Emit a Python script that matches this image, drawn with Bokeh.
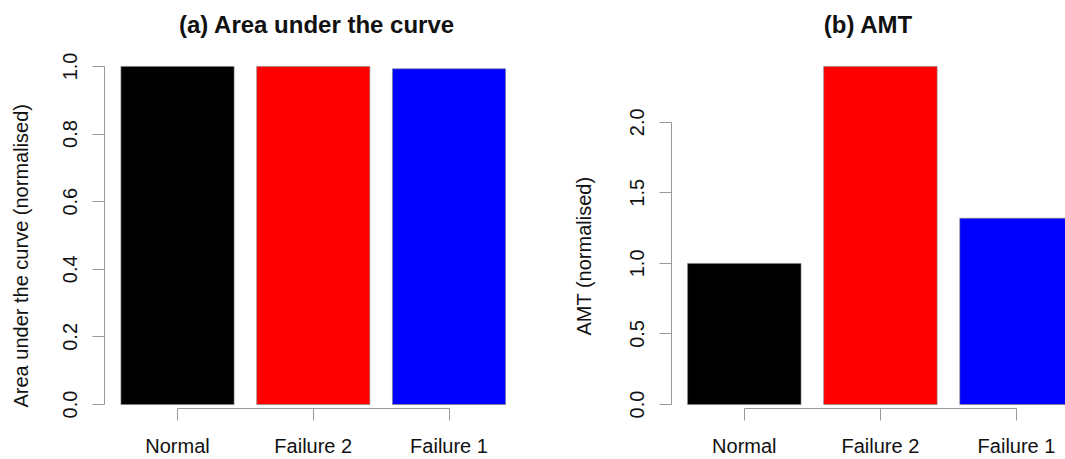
from bokeh.plotting import figure
from bokeh.layouts import row
from bokeh.models import FixedTicker, Range1d, ColumnDataSource, Title
from bokeh.embed import file_html
from bokeh.resources import INLINE

# ---- data ----
categories = ["Normal", "Failure 2", "Failure 1"]
bar_colors = ["#000000", "#ff0000", "#0000ff"]
auc_values = [1.0, 1.0, 0.993]
amt_values = [1.0, 2.396, 1.32]
auc_ticks = [0.0, 0.2, 0.4, 0.6, 0.8, 1.0]
amt_ticks = [0.0, 0.5, 1.0, 1.5, 2.0]
auc_tick_labels = ["0.0", "0.2", "0.4", "0.6", "0.8", "1.0"]
amt_tick_labels = ["0.0", "0.5", "1.0", "1.5", "2.0"]

FONT = "Liberation Sans"
AXIS_COL = "#999999"
TEXT_COL = "#111111"
H = 459
BAR_W = 1 / 1.2
FRAME_TOP = 42
FRAME_BOTTOM = 409
ZERO_PX = 405


def label_strip(text, width, b_left, offset):
    """Narrow figure that only carries the rotated y-axis title."""
    p = figure(width=width, height=H, output_backend="svg", toolbar_location=None,
               x_range=Range1d(0, 1), y_range=Range1d(0, 1),
               min_border_left=b_left, min_border_right=0,
               min_border_top=FRAME_TOP, min_border_bottom=H - FRAME_BOTTOM)
    p.outline_line_color = None
    p.xgrid.visible = False
    p.ygrid.visible = False
    p.xaxis.visible = False
    p.yaxis.visible = False
    p.background_fill_color = "white"
    p.border_fill_color = "white"
    t = Title(text=text, align="left", offset=offset, standoff=0,
              vertical_align="middle", text_font=FONT, text_font_size="20px",
              text_font_style="normal", text_color=TEXT_COL)
    p.add_layout(t, "left")
    return p


def make_panel(values, ticks, tick_labels, title, width, b_left, b_right,
               x_start, px_per_x, y_px, y_top_val):
    frame_w = width - b_left - b_right
    y_start = -(FRAME_BOTTOM - ZERO_PX) / y_px
    y_end = (ZERO_PX - FRAME_TOP) / y_px
    p = figure(width=width, height=H, output_backend="svg", toolbar_location=None,
               x_range=Range1d(x_start, x_start + frame_w / px_per_x),
               y_range=Range1d(y_start, y_end),
               min_border_left=b_left, min_border_right=b_right,
               min_border_top=FRAME_TOP, min_border_bottom=H - FRAME_BOTTOM)
    src = ColumnDataSource(dict(x=list(range(len(categories))), top=values,
                                color=bar_colors, cat=categories))
    p.vbar(x="x", top="top", bottom=0, width=BAR_W, color="color", source=src,
           line_color="#808080", line_width=1, line_alpha=0.6)
    p.outline_line_color = None
    p.xgrid.visible = False
    p.ygrid.visible = False
    p.background_fill_color = "white"
    p.border_fill_color = "white"

    p.title.text = title
    p.title.align = "center"
    p.title.text_font = FONT
    p.title.text_font_size = "24px"
    p.title.text_font_style = "bold"
    p.title.text_color = TEXT_COL

    xa = p.xaxis[0]
    xa.ticker = FixedTicker(ticks=list(range(len(categories))))
    xa.major_label_overrides = {i: c for i, c in enumerate(categories)}
    xa.bounds = (0, len(categories) - 1)
    yaxis = p.yaxis[0]
    yaxis.ticker = FixedTicker(ticks=ticks)
    yaxis.major_label_overrides = {t: l for t, l in zip(ticks, tick_labels)}
    yaxis.bounds = (0, y_top_val)
    yaxis.major_label_orientation = "vertical"
    for ax in (xa, yaxis):
        ax.axis_line_color = AXIS_COL
        ax.major_tick_line_color = AXIS_COL
        ax.minor_tick_line_color = None
        ax.major_tick_out = 12
        ax.major_tick_in = 0
        ax.major_label_text_font = FONT
        ax.major_label_text_font_size = "20px"
        ax.major_label_text_color = TEXT_COL
    xa.major_label_standoff = 14
    yaxis.major_label_standoff = 15
    return p


lab1 = label_strip("Area under the curve (normalised)", 40, 32, 1)
p1 = make_panel(auc_values, auc_ticks, auc_tick_labels, "(a) Area under the curve",
                520, 64, 31, -(177 - 104) / 135.75, 135.75, 339.0, 1.0)
lab2 = label_strip("AMT (normalised)", 40, 35, 73)
p2 = make_panel(amt_values, amt_ticks, amt_tick_labels, "(b) AMT",
                465, 71, 0, -(743.8 - 671) / 136.1, 136.1, 141.5, 2.0)

layout = row(lab1, p1, lab2, p2)
open("out.html", "w").write(file_html(layout, INLINE))
